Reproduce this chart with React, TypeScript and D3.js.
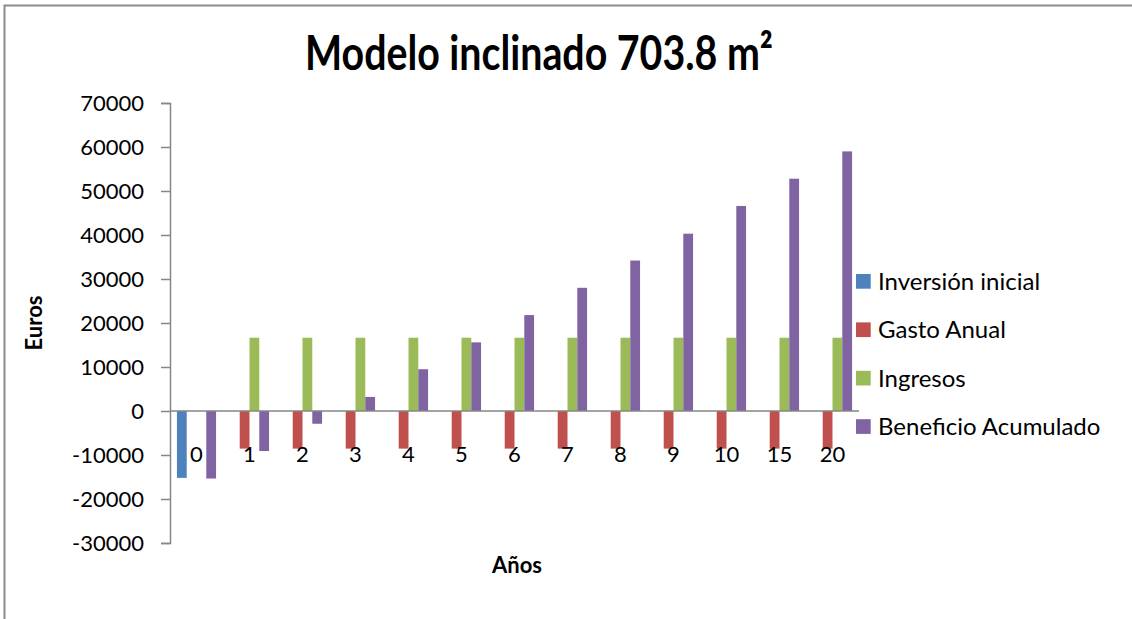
import React, { useEffect, useRef } from 'react';
import * as d3 from 'd3';

const years = ['0', '1', '2', '3', '4', '5', '6', '7', '8', '9', '10', '15', '20'];
const seriesNames = ['Inversión inicial', 'Gasto Anual', 'Ingresos', 'Beneficio Acumulado'];
const seriesColors = ['#4F81BD', '#C0504D', '#9BBB59', '#8064A2'];

const inversionInicial = [-15200, null, null, null, null, null, null, null, null, null, null, null, null];
const gastoAnual = [null, -8550, -8550, -8550, -8550, -8550, -8550, -8550, -8550, -8550, -8550, -8550, -8550];
const ingresos = [null, 16650, 16650, 16650, 16650, 16650, 16650, 16650, 16650, 16650, 16650, 16650, 16650];
const beneficioAcumulado = [-15350, -9100, -2900, 3200, 9500, 15600, 21800, 28000, 34200, 40300, 46600, 52800, 59000];

const yTicks = [-30000, -20000, -10000, 0, 10000, 20000, 30000, 40000, 50000, 60000, 70000];

const FONT = 'Lato, Carlito, Calibri, sans-serif';

const App = () => {
  const svgRef = useRef<SVGSVGElement>(null);

  useEffect(() => {
    const plot = { left: 170, right: 859, top: 103, bottom: 543 };

    const svg = d3.select(svgRef.current);
    svg.selectAll('g.chart').remove();
    const root = svg.append('g').attr('class', 'chart');

    const x0 = d3.scaleBand().domain(years).range([plot.left, plot.right]);
    const bw = x0.bandwidth();
    const barW = bw / 5.5;
    const x1 = d3.scaleBand().domain(seriesNames)
      .range([barW * 0.72, bw - barW * 0.72]);

    const y = d3.scaleLinear().domain([-30000, 70000]).range([plot.bottom, plot.top]);

    const series = [inversionInicial, gastoAnual, ingresos, beneficioAcumulado];

    // bars
    series.forEach((vals, si) => {
      root.append('g')
        .selectAll('rect')
        .data(vals.map((v, i) => ({ v, year: years[i] })).filter(d => d.v !== null))
        .enter()
        .append('rect')
        .attr('x', d => (x0(d.year) as number) + (x1(seriesNames[si]) as number))
        .attr('width', x1.bandwidth())
        .attr('y', d => y(Math.max(0, d.v as number)))
        .attr('height', d => Math.abs(y(d.v as number) - y(0)))
        .attr('fill', seriesColors[si]);
    });

    // y axis
    const yAxis = d3.axisLeft(y).tickValues(yTicks).tickSize(9).tickPadding(17)
      .tickFormat(d => String(d));
    const gy = root.append('g').attr('transform', `translate(${plot.left},0)`).call(yAxis);
    gy.select('.domain').attr('stroke', '#868686').attr('stroke-width', 1.5);
    gy.selectAll('.tick line').attr('stroke', '#868686').attr('stroke-width', 1.5);
    gy.selectAll('.tick text')
      .attr('font-family', FONT).attr('font-size', 22).attr('fill', '#000');

    // zero line
    root.append('line')
      .attr('x1', plot.left).attr('x2', plot.right)
      .attr('y1', y(0)).attr('y2', y(0))
      .attr('stroke', '#868686').attr('stroke-width', 1.5);

    // category labels
    root.append('g')
      .selectAll('text')
      .data(years)
      .enter()
      .append('text')
      .attr('x', d => (x0(d) as number) + bw / 2)
      .attr('y', y(0) + 51)
      .attr('text-anchor', 'middle')
      .attr('font-family', FONT).attr('font-size', 22)
      .text(d => d);

    // title
    root.append('text')
      .attr('x', 539).attr('y', 70)
      .attr('text-anchor', 'middle')
      .attr('font-family', FONT).attr('font-weight', 'bold').attr('font-size', 48)
      .attr('textLength', 468).attr('lengthAdjust', 'spacingAndGlyphs')
      .text('Modelo inclinado 703.8 m²');

    // axis titles
    root.append('text')
      .attr('transform', 'translate(42,323) rotate(-90)')
      .attr('text-anchor', 'middle')
      .attr('font-family', FONT).attr('font-weight', 'bold').attr('font-size', 22)
      .text('Euros');

    root.append('text')
      .attr('x', 517).attr('y', 573)
      .attr('text-anchor', 'middle')
      .attr('font-family', FONT).attr('font-weight', 'bold').attr('font-size', 22)
      .text('Años');

    // legend
    const legend = root.append('g').attr('transform', 'translate(856,274)');
    seriesNames.forEach((name, i) => {
      const g = legend.append('g').attr('transform', `translate(0,${i * 48.4})`);
      g.append('rect').attr('width', 14.7).attr('height', 14.7).attr('fill', seriesColors[i]);
      g.append('text')
        .attr('x', 22).attr('y', 16)
        .attr('font-family', FONT).attr('font-size', 24)
        .text(name);
    });
  }, []);

  return (
    <svg
      ref={svgRef}
      width={1132}
      height={619}
      style={{ position: 'absolute', left: 0, top: 0, display: 'block', background: '#fff' }}
    >
      {/* chart frame: only the top and left edges show in the picture */}
      <path d="M4.5,619 V5.5 H1132" fill="none" stroke="#8c8c8c" strokeWidth={2} />
    </svg>
  );
};

export default App;
